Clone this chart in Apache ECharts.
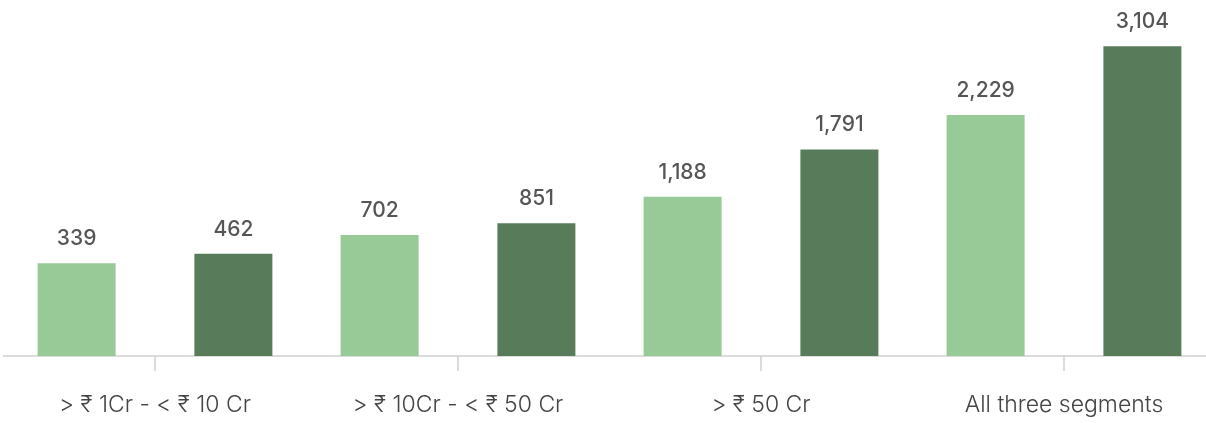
<!DOCTYPE html>
<html>
<head>
<meta charset="utf-8">
<style>
  html, body { margin: 0; padding: 0; background: #fff; }
  #chart { width: 1206px; height: 423px; }
</style>
<script src="https://cdn.jsdelivr.net/npm/echarts@6/dist/echarts.min.js"></script>
</head>
<body>
<div id="chart"></div>
<script>
const categories = ['> ₹ 1Cr - < ₹ 10 Cr', '> ₹ 10Cr - < ₹ 50 Cr', '> ₹ 50 Cr', 'All three segments']
const lightValues = [339, 702, 1188, 2229]
const darkValues = [462, 851, 1791, 3104]

const chart = echarts.init(document.getElementById('chart'))

const labelStyle = {
  show: true,
  position: 'top',
  distance: 14,
  fontFamily: 'Inter, "Noto Sans", sans-serif',
  fontSize: 21,
  fontWeight: 500,
  color: '#555',
  formatter: (p) => p.value.toLocaleString('en-US')
}

chart.setOption({
  animation: false,
  grid: {
    left: 3.5,
    width: 1212,
    top: 7,
    bottom: 67,
    containLabel: false,
    outerBoundsMode: 'none'
  },
  xAxis: {
    type: 'category',
    data: categories,
    axisLine: { show: true, onZero: false, lineStyle: { color: '#d0d0d0', width: 1.5 } },
    axisTick: {
      show: true,
      alignWithLabel: true,
      interval: 0,
      length: 15,
      lineStyle: { color: '#d0d0d0', width: 1.5 }
    },
    axisLabel: {
      margin: 38,
      interval: 0,
      fontFamily: 'Inter, "Noto Sans", sans-serif',
      fontSize: 23,
      fontWeight: 300,
      color: '#444'
    }
  },
  yAxis: {
    type: 'value',
    min: -841,
    max: 3605,
    startValue: -841,
    show: false,
    splitLine: { show: false }
  },
  series: [
    {
      name: 'light',
      type: 'bar',
      data: lightValues,
      barWidth: 78,
      barGap: '101%',
      itemStyle: { color: '#98ca98' },
      label: labelStyle
    },
    {
      name: 'dark',
      type: 'bar',
      data: darkValues,
      barWidth: 78,
      itemStyle: { color: '#587c5a' },
      label: labelStyle
    }
  ]
})
</script>
</body>
</html>
